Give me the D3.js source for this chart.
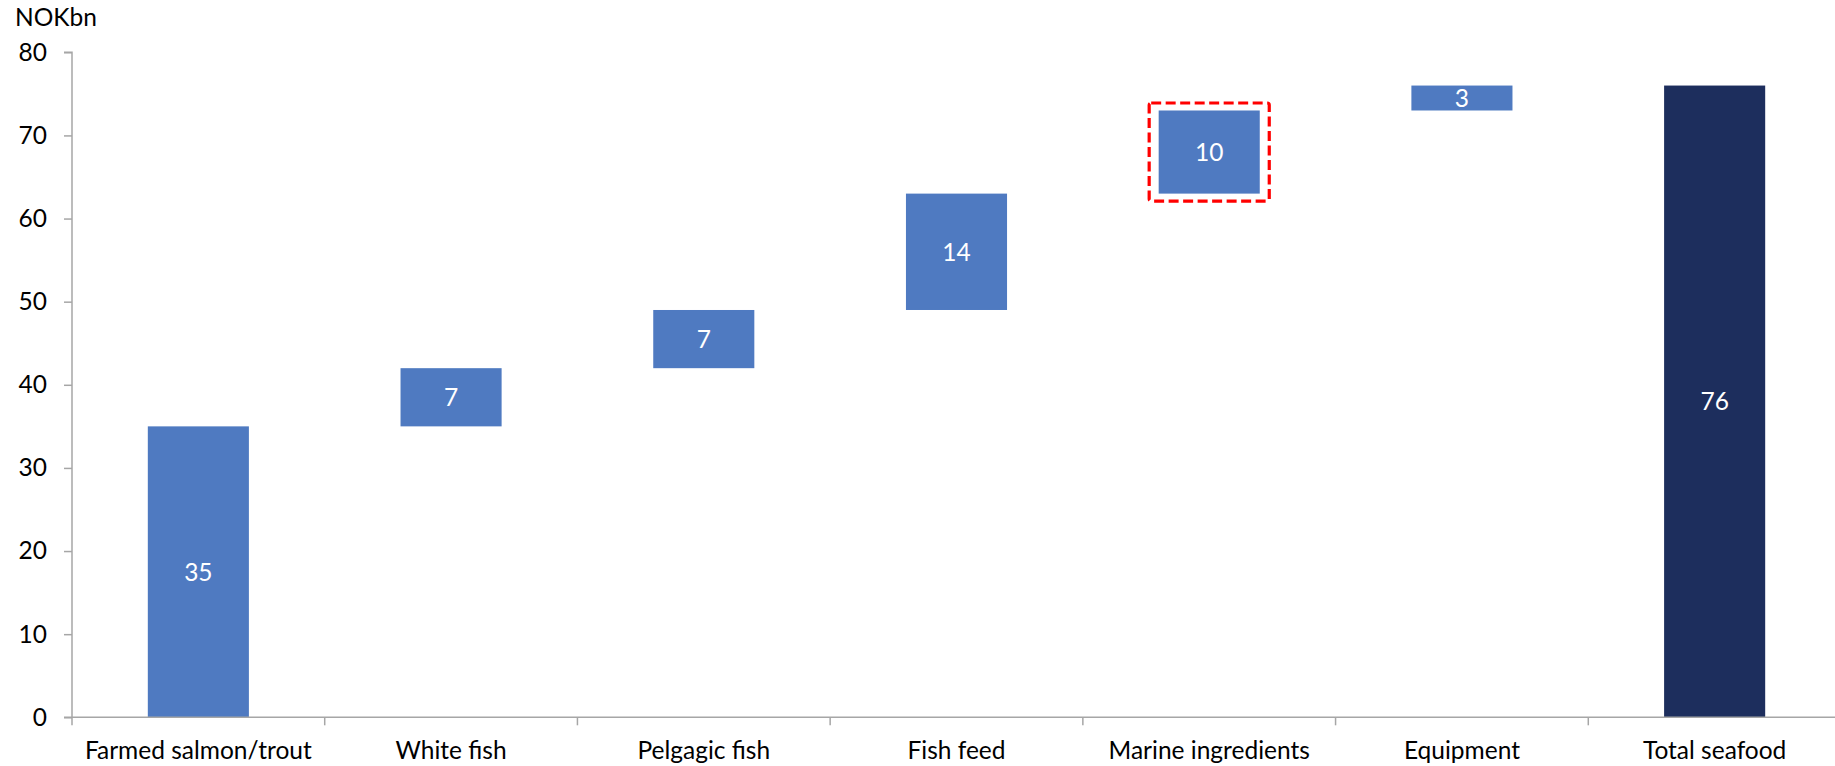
<!DOCTYPE html>
<html>
<head>
<meta charset="utf-8">
<script src="https://cdn.jsdelivr.net/npm/d3@7"></script>
<style>
  html, body { margin: 0; padding: 0; background: #fff; }
  svg { display: block; font-family: Lato, "Open Sans", sans-serif; }
</style>
</head>
<body>
<svg id="chart" width="1835" height="766"></svg>
<script>
const categories = ["Farmed salmon/trout", "White fish", "Pelgagic fish", "Fish feed", "Marine ingredients", "Equipment", "Total seafood"];
const values = [35, 7, 7, 14, 10, 3, 76];
const isTotal = [false, false, false, false, false, false, true];
const yTicks = [0, 10, 20, 30, 40, 50, 60, 70, 80];
const highlighted = "Marine ingredients";
const unitLabel = "NOKbn";

(function () {
const svg = d3.select("#chart");
const mLeft = 72, mRight = 1841, mTop = 52.3, mBottom = 717.3;
const fontSize = 24.5;
const fam = "Lato, 'Open Sans', sans-serif";

const x = d3.scaleBand().domain(categories).range([mLeft, mRight]).paddingInner(0.6).paddingOuter(0.3);
const y = d3.scaleLinear().domain([0, 80]).range([mBottom, mTop]);

let running = 0;
const bars = categories.map((c, i) => {
  let lo, hi;
  if (isTotal[i]) { lo = 0; hi = values[i]; }
  else { lo = running; hi = running + values[i]; running = hi; }
  return { c, v: values[i], lo, hi, total: isTotal[i] };
});

const axisColor = "#a6a6a6";

svg.append("g").selectAll("rect").data(bars).join("rect")
  .attr("x", d => x(d.c))
  .attr("width", x.bandwidth())
  .attr("y", d => y(d.hi))
  .attr("height", d => y(d.lo) - y(d.hi))
  .attr("fill", d => d.total ? "#1d2e5d" : "#4f7ac1");

svg.append("g").selectAll("text").data(bars).join("text")
  .attr("x", d => x(d.c) + x.bandwidth() / 2)
  .attr("y", d => (y(d.lo) + y(d.hi)) / 2)
  .attr("dy", "0.36em")
  .attr("text-anchor", "middle")
  .attr("fill", "#fff")
  .attr("font-size", fontSize)
  .text(d => d.v);

const hb = bars.find(d => d.c === highlighted);
svg.append("rect")
  .attr("x", x(hb.c) - 9.5)
  .attr("width", x.bandwidth() + 19)
  .attr("y", y(hb.hi) - 7.5)
  .attr("height", y(hb.lo) - y(hb.hi) + 15)
  .attr("rx", 2)
  .attr("fill", "none")
  .attr("stroke", "#ff0000")
  .attr("stroke-width", 3.2)
  .attr("stroke-dasharray", "10,4.5");

const yAxis = svg.append("g").attr("transform", `translate(${mLeft},0)`)
  .call(d3.axisLeft(y).tickValues(yTicks).tickSize(8).tickPadding(17));
yAxis.select(".domain").attr("stroke", axisColor).attr("stroke-width", 1.5)
  .attr("d", `M-8,${mTop}H0V${mBottom + 8}`);
yAxis.selectAll(".tick line").attr("stroke", axisColor).attr("stroke-width", 1.5);
yAxis.selectAll(".tick text").attr("fill", "#000").attr("font-size", fontSize)
  .attr("font-family", fam);

const step = x.step();
const boundaries = d3.range(1, categories.length).map(i => mLeft + i * step);
const xg = svg.append("g");
xg.append("line").attr("x1", mLeft - 8).attr("x2", 1835).attr("y1", mBottom).attr("y2", mBottom)
  .attr("stroke", axisColor).attr("stroke-width", 1.5);
xg.selectAll("line.tk").data(boundaries).join("line").attr("class", "tk")
  .attr("x1", d => d).attr("x2", d => d).attr("y1", mBottom).attr("y2", mBottom + 8)
  .attr("stroke", axisColor).attr("stroke-width", 1.5);
xg.selectAll("text").data(categories).join("text")
  .attr("x", d => x(d) + x.bandwidth() / 2)
  .attr("y", 759)
  .attr("text-anchor", "middle")
  .attr("font-size", fontSize)
  .attr("fill", "#000")
  .text(d => d);

svg.append("text").attr("x", 15).attr("y", 26).attr("font-size", fontSize).attr("fill", "#000").text(unitLabel);
})();
</script>
</body>
</html>
